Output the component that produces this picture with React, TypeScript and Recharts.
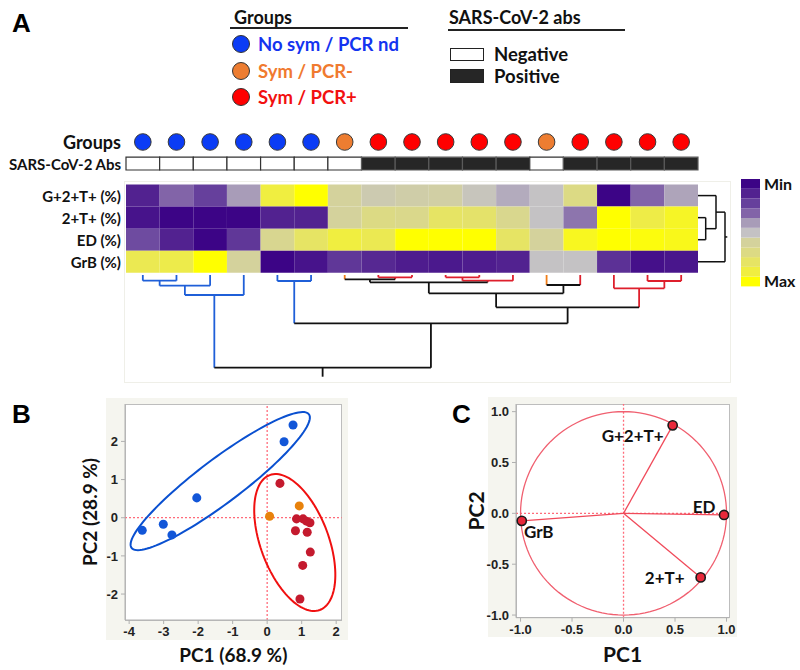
import React from 'react'
import {
  ScatterChart,
  Scatter,
  BarChart,
  Bar,
  XAxis,
  YAxis,
  ReferenceArea,
  ReferenceLine,
} from 'recharts'

const FONT = 'Lato, "Open Sans", sans-serif'
const NUM_FONT = '"Liberation Sans", Arial, sans-serif'

// ---------- panel A data ----------
const MARKERS = ['G+2+T+ (%)', '2+T+ (%)', 'ED (%)', 'GrB (%)']
// nd = no sym / PCR nd, neg = sym / PCR-, pos = sym / PCR+
const SAMPLE_GROUPS = ['nd', 'nd', 'nd', 'nd', 'nd', 'nd', 'neg', 'pos', 'pos', 'pos', 'pos', 'pos', 'neg', 'pos', 'pos', 'pos', 'pos']
const SAMPLE_ABS = [0, 0, 0, 0, 0, 0, 0, 1, 1, 1, 1, 1, 0, 1, 1, 1, 1]

// scaled level, 0 = min .. 10 = max
const HEAT_G2T = [1, 3, 2, 4, 9, 10, 6, 5.5, 5.7, 5.8, 5.2, 4.4, 5, 7, 0, 3, 4.2]
const HEAT_2T = [0.5, 0, 0, 0, 1, 1, 6, 7, 6.7, 8, 7.8, 6.6, 5, 3.3, 10, 8.8, 9.4]
const HEAT_ED = [2.3, 1, 0, 1.7, 6.5, 8, 9, 8.5, 10, 10, 10, 8, 6, 9.5, 10, 9.8, 9.6]
const HEAT_GRB = [8.5, 8.7, 10, 6, 0, 0.5, 1.7, 1.2, 0.8, 0.7, 0.8, 1, 5, 5, 1.5, 0.4, 0.6]
const HEAT_ROWS = [HEAT_G2T, HEAT_2T, HEAT_ED, HEAT_GRB]

const HEAT_PALETTE = ['#3c0486', '#522290', '#66409c', '#8264a8', '#a89cb8', '#c4c2c4', '#d4d29c', '#dcda84', '#e6e464', '#f0ee40', '#ffff00']

// linkage rows: [left, right, height]; leaves first, merged clusters numbered after them
const COL_LINKAGE: [number, number, number][] = [
  [0, 1, 0.285], [17, 2, 0.535], [18, 3, 1.0], [4, 5, 0.3], [7, 8, 0.115], [6, 21, 0.215],
  [9, 10, 0.115], [23, 11, 0.285], [22, 24, 0.365], [12, 13, 0.5], [25, 26, 0.915],
  [15, 16, 0.3], [14, 28, 0.665], [27, 29, 1.615], [20, 30, 2.415], [19, 31, 4.635],
]
const COL_ROOT_STEM = 5.085
const ROW_LINKAGE: [number, number, number][] = [[1, 2, 0.385], [0, 4, 0.9], [5, 3, 1.35]]
const ROW_ROOT_STEM = 1.465

// ---------- panel B data ----------
const PCA_NOSYM = [
  { x: 0.75, y: 2.43 }, { x: 0.49, y: 1.99 }, { x: -2.04, y: 0.52 },
  { x: -3.01, y: -0.17 }, { x: -3.62, y: -0.33 }, { x: -2.76, y: -0.45 },
]
const PCA_SYM_NEG = [{ x: 0.93, y: 0.31 }, { x: 0.07, y: 0.04 }]
const PCA_SYM_POS = [
  { x: 0.37, y: 0.9 }, { x: 0.85, y: -0.03 }, { x: 1.04, y: -0.03 }, { x: 1.14, y: -0.09 },
  { x: 1.24, y: -0.13 }, { x: 0.82, y: -0.34 }, { x: 1.16, y: -0.38 }, { x: 1.25, y: -0.9 },
  { x: 1.03, y: -1.25 }, { x: 0.95, y: -2.13 },
]
// confidence ellipses: centre and the two half axes
const ELLIPSE_NOSYM = { cx: -1.36, cy: 0.96, ax: 2.57, ay: 1.75, bx: 0.38, by: -0.46 }
const ELLIPSE_SYMPOS = { cx: 0.8, cy: -0.65, ax: 0.725, ay: -1.767, bx: 0.925, by: 0.309 }

// ---------- panel C data ----------
const LOADING_NAMES = ['G+2+T+', 'ED', 'GrB', '2+T+']
const LOADING_PC1 = [0.477, 0.976, -0.988, 0.749]
const LOADING_PC2 = [0.865, -0.016, -0.074, -0.63]

// ---------- styles ----------
const GROUP_FILL: Record<string, string> = { nd: '#0b3cf5', neg: '#ed7d31', pos: '#ff0000' }
const DEND_COLOR: Record<string, string> = { nd: '#1f5fd8', neg: '#f07d18', pos: '#de1f2c', mixed: '#111111' }
const LABEL_OFFSET: Record<string, [number, number]> = {
  'G+2+T+': [-40, 10], ED: [-20, -8], GrB: [17, 11], '2+T+': [-36, 0],
}

const HM_Y = [-0.6, 6.2]
const ABS_Y = [4.16, 4.74]
const GROUP_Y = 5.43

function hex(c: string) {
  return [1, 3, 5].map((i) => parseInt(c.slice(i, i + 2), 16))
}
function heatColor(level: number) {
  const i = Math.min(HEAT_PALETTE.length - 2, Math.floor(level))
  const t = level - i
  const a = hex(HEAT_PALETTE[i])
  const b = hex(HEAT_PALETTE[i + 1])
  const m = a.map((v, k) => Math.round(v + (b[k] - v) * t))
  return `rgb(${m[0]},${m[1]},${m[2]})`
}

type Seg = { pts: { x: number; y: number }[]; color: string }
function dendroSegments(
  linkage: [number, number, number][],
  leafGroups: string[],
  stem: number,
  toXY: (p: number, d: number) => { x: number; y: number },
): Seg[] {
  const n = leafGroups.length
  const pos: number[] = []
  const hgt: number[] = []
  const grp: string[] = []
  for (let i = 0; i < n; i++) {
    pos[i] = i
    hgt[i] = 0
    grp[i] = leafGroups[i]
  }
  const segs: Seg[] = []
  linkage.forEach(([a, b, h], k) => {
    const id = n + k
    pos[id] = (pos[a] + pos[b]) / 2
    hgt[id] = h
    grp[id] = grp[a] === grp[b] ? grp[a] : 'mixed'
    segs.push({ pts: [toXY(pos[a], hgt[a]), toXY(pos[a], h)], color: DEND_COLOR[grp[a]] })
    segs.push({ pts: [toXY(pos[b], hgt[b]), toXY(pos[b], h)], color: DEND_COLOR[grp[b]] })
    segs.push({ pts: [toXY(pos[a], h), toXY(pos[b], h)], color: DEND_COLOR[grp[id]] })
  })
  const root = n + linkage.length - 1
  segs.push({ pts: [toXY(pos[root], hgt[root]), toXY(pos[root], stem)], color: DEND_COLOR[grp[root]] })
  return segs
}

function ellipseOutline(e: typeof ELLIPSE_NOSYM) {
  const pts = []
  for (let k = 0; k <= 120; k++) {
    const t = (k / 120) * 2 * Math.PI
    pts.push({
      x: e.cx + Math.cos(t) * e.ax + Math.sin(t) * e.bx,
      y: e.cy + Math.cos(t) * e.ay + Math.sin(t) * e.by,
    })
  }
  return pts
}

const NoDot = () => <g />

const GroupDot = (props: any) => (
  <circle cx={props.cx} cy={props.cy} r={8.3} fill={GROUP_FILL[props.payload.g]} stroke="#3a3a3a" strokeWidth={1} />
)

const HeatTick = (props: any) => {
  const v = props.payload.value
  const label = v === GROUP_Y ? 'Groups' : v === (ABS_Y[0] + ABS_Y[1]) / 2 ? 'SARS-CoV-2 Abs' : MARKERS[3 - v]
  return (
    <text x={props.x} y={props.y} textAnchor="end" dominantBaseline="central" fontFamily={FONT} fontWeight={700} fontSize={label === 'Groups' ? 18 : 15} fill="#111">
      {label}
    </text>
  )
}

const LoadingDot = (props: any) => {
  const { cx, cy, payload } = props
  const [dx, dy] = LABEL_OFFSET[payload.name]
  return (
    <g>
      <circle cx={cx} cy={cy} r={4.6} fill="#e8283a" stroke="#1a1a1a" strokeWidth={1.6} />
      <text x={cx + dx} y={cy + dy} textAnchor="middle" dominantBaseline="central" fontFamily={FONT} fontWeight={700} fontSize={17} fill="#111">
        {payload.name}
      </text>
    </g>
  )
}

const Txt = ({ x, y, size, color = '#111', children }: any) => (
  <div style={{ position: 'absolute', left: x, top: y, transform: 'translateY(-50%)', fontFamily: FONT, fontWeight: 700, fontSize: size, color, lineHeight: 1, whiteSpace: 'nowrap' }}>
    {children}
  </div>
)

const Box = (s: React.CSSProperties) => <div style={{ position: 'absolute', boxSizing: 'border-box', ...s }} />

const tickStyle = { fontFamily: NUM_FONT, fontSize: 13, fontWeight: 700, fill: '#222' }
const axisTitle = { fontFamily: FONT, fontWeight: 700, fontSize: 19, fill: '#111' }

export default function App() {
  const groupPoints = SAMPLE_GROUPS.map((g, i) => ({ x: i, y: GROUP_Y, g }))
  const colSegs = dendroSegments(COL_LINKAGE, SAMPLE_GROUPS, COL_ROOT_STEM, (p, d) => ({ x: p, y: d }))
  const rowSegs = dendroSegments(ROW_LINKAGE, MARKERS.map(() => 'mixed'), ROW_ROOT_STEM, (p, d) => ({ x: d, y: 3 - p }))
  const colorbarRow: Record<string, number | string> = { name: 'scale' }
  HEAT_PALETTE.forEach((_, i) => (colorbarRow[`l${i}`] = 1))
  const loadings = LOADING_NAMES.map((name, i) => ({ name, x: LOADING_PC1[i], y: LOADING_PC2[i] }))
  const ticksC = [-1, -0.5, 0, 0.5, 1]

  return (
    <div style={{ position: 'absolute', left: 0, top: 0, width: 800, height: 670, background: '#fff', overflow: 'hidden' }}>
      {/* panel letters */}
      <div style={{ position: 'absolute', left: 12, top: 8, fontFamily: NUM_FONT, fontWeight: 700, fontSize: 26 }}>A</div>
      <div style={{ position: 'absolute', left: 12, top: 399, fontFamily: NUM_FONT, fontWeight: 700, fontSize: 26 }}>B</div>
      <div style={{ position: 'absolute', left: 452, top: 399, fontFamily: NUM_FONT, fontWeight: 700, fontSize: 26 }}>C</div>

      {/* legend */}
      <Txt x={234} y={17} size={18}>Groups</Txt>
      <Box left={230} top={27} width={178} height={1.8} background="#222" />
      <Txt x={449} y={17} size={18}>SARS-CoV-2 abs</Txt>
      <Box left={448} top={29} width={177} height={1.8} background="#222" />
      {[
        { g: 'nd', label: 'No sym / PCR nd', color: '#1434f0', y: 43.5 },
        { g: 'neg', label: 'Sym / PCR-', color: '#f07a30', y: 70.5 },
        { g: 'pos', label: 'Sym / PCR+', color: '#f21010', y: 97 },
      ].map((it) => (
        <React.Fragment key={it.g}>
          <Box left={232} top={it.y - 9} width={18} height={18} borderRadius="50%" border="1px solid #333" background={GROUP_FILL[it.g]} />
          <Txt x={258} y={it.y} size={18.5} color={it.color}>{it.label}</Txt>
        </React.Fragment>
      ))}
      <Box left={450} top={47.5} width={34} height={13.5} border="1.5px solid #222" background="#fff" />
      <Txt x={494} y={54} size={18.5}>Negative</Txt>
      <Box left={450} top={69} width={34} height={14} border="1.5px solid #222" background="#262626" />
      <Txt x={494} y={76} size={18.5}>Positive</Txt>

      {/* faint frame round the heatmap */}
      <Box left={124} top={181} width={607} height={202} border="1.5px solid #efefe8" />

      {/* heatmap with group / antibody rows */}
      <div style={{ position: 'absolute', left: 0, top: 125 }}>
        <ScatterChart width={700} height={150} margin={{ top: 0, right: 2, bottom: 0, left: 0 }}>
          <XAxis type="number" dataKey="x" domain={[-0.5, 16.5]} hide />
          <YAxis
            type="number"
            dataKey="y"
            domain={HM_Y}
            width={126}
            ticks={[GROUP_Y, (ABS_Y[0] + ABS_Y[1]) / 2, 3, 2, 1, 0]}
            interval={0}
            axisLine={false}
            tickLine={false}
            tickSize={0}
            tickMargin={5}
            tick={<HeatTick />}
          />
          {HEAT_ROWS.map((row, r) =>
            row.map((lv, i) => (
              <ReferenceArea key={`h${r}-${i}`} x1={i - 0.5} x2={i + 0.5} y1={3 - r - 0.5} y2={3 - r + 0.5} fill={heatColor(lv)} fillOpacity={1} stroke="none" />
            )),
          )}
          {SAMPLE_ABS.map((a, i) => (
            <ReferenceArea key={`a${i}`} x1={i - 0.5} x2={i + 0.5} y1={ABS_Y[0]} y2={ABS_Y[1]} fill={a ? '#262626' : '#ffffff'} fillOpacity={1} stroke={a ? '#5a5a5a' : '#333'} strokeWidth={1.2} />
          ))}
          <Scatter data={groupPoints} shape={GroupDot} isAnimationActive={false} />
        </ScatterChart>
      </div>

      {/* row dendrogram */}
      <div style={{ position: 'absolute', left: 698, top: 125 }}>
        <ScatterChart width={31} height={150} margin={{ top: 0, right: 0, bottom: 0, left: 0 }}>
          <XAxis type="number" dataKey="x" domain={[0, 1.55]} hide />
          <YAxis type="number" dataKey="y" domain={HM_Y} hide />
          {rowSegs.map((s, i) => (
            <Scatter key={i} data={s.pts} line={{ stroke: s.color, strokeWidth: 1.5 }} shape={NoDot} isAnimationActive={false} />
          ))}
        </ScatterChart>
      </div>

      {/* colour scale */}
      <div style={{ position: 'absolute', left: 741, top: 169.3 }}>
        <BarChart width={58} height={127.4} data={[colorbarRow]} margin={{ top: 10, right: 0, bottom: 10, left: 0 }} barCategoryGap={0}>
          <XAxis dataKey="name" hide />
          <YAxis
            orientation="right"
            type="number"
            domain={[0, HEAT_PALETTE.length]}
            ticks={[0.5, HEAT_PALETTE.length - 0.5]}
            interval={0}
            width={39}
            axisLine={false}
            tickLine={false}
            tickSize={0}
            tickMargin={4}
            tickFormatter={(v: number) => (v > 5 ? 'Min' : 'Max')}
            tick={{ fontFamily: FONT, fontWeight: 700, fontSize: 16, fill: '#111' }}
          />
          {HEAT_PALETTE.map((_, i) => {
            const lv = HEAT_PALETTE.length - 1 - i
            return <Bar key={lv} dataKey={`l${lv}`} stackId="s" fill={HEAT_PALETTE[lv]} isAnimationActive={false} />
          })}
        </BarChart>
      </div>

      {/* column dendrogram */}
      <div style={{ position: 'absolute', left: 0, top: 275 }}>
        <ScatterChart width={700} height={103} margin={{ top: 0, right: 2, bottom: 0, left: 126 }}>
          <XAxis type="number" dataKey="x" domain={[-0.5, 16.5]} hide />
          <YAxis type="number" dataKey="y" domain={[0, 5.15]} reversed hide />
          {colSegs.map((s, i) => (
            <Scatter key={i} data={s.pts} line={{ stroke: s.color, strokeWidth: 1.8 }} shape={NoDot} isAnimationActive={false} />
          ))}
        </ScatterChart>
      </div>

      {/* panel B */}
      <Box left={106} top={398} width={242} height={242} background="#f5f5ef" />
      <Box left={125} top={404} width={217} height={217} background="#fff" border="1px solid #bdbdbd" />
      <div style={{ position: 'absolute', left: 70, top: 398 }}>
        <ScatterChart width={278} height={270} margin={{ top: 6, right: 6.3, bottom: 0, left: 0 }}>
          <XAxis
            type="number"
            dataKey="x"
            domain={[-4.12, 2.16]}
            ticks={[-4, -3, -2, -1, 0, 1, 2]}
            interval={0}
            allowDataOverflow
            height={48}
            tickSize={4}
            tickMargin={3}
            stroke="#b0b0b0"
            tick={tickStyle}
            label={{ value: 'PC1 (68.9 %)', position: 'insideBottom', offset: 6, style: axisTitle }}
          />
          <YAxis
            type="number"
            dataKey="y"
            domain={[-2.68, 2.98]}
            ticks={[-2, -1, 0, 1, 2]}
            interval={0}
            allowDataOverflow
            width={55}
            tickSize={4}
            tickMargin={3}
            stroke="#b0b0b0"
            tick={tickStyle}
            label={{ value: 'PC2 (28.9 %)', angle: -90, position: 'insideLeft', offset: 20, style: { ...axisTitle, textAnchor: 'middle' } }}
          />
          <ReferenceLine x={0} stroke="#ff6b7a" strokeDasharray="2 2" strokeWidth={1.3} />
          <ReferenceLine y={0} stroke="#ff6b7a" strokeDasharray="2 2" strokeWidth={1.3} />
          <Scatter data={ellipseOutline(ELLIPSE_NOSYM)} line={{ stroke: '#0a50d0', strokeWidth: 2 }} shape={NoDot} isAnimationActive={false} />
          <Scatter data={ellipseOutline(ELLIPSE_SYMPOS)} line={{ stroke: '#f01010', strokeWidth: 2 }} shape={NoDot} isAnimationActive={false} />
          <Scatter data={PCA_NOSYM} fill="#1256d8" isAnimationActive={false} />
          <Scatter data={PCA_SYM_NEG} fill="#e8820c" isAnimationActive={false} />
          <Scatter data={PCA_SYM_POS} fill="#c41a2e" isAnimationActive={false} />
        </ScatterChart>
      </div>

      {/* panel C */}
      <Box left={488} top={397} width={249} height={240} background="#f5f5ef" />
      <Box left={516} top={404} width={214} height={214} background="#fff" border="1px solid #bdbdbd" />
      <div style={{ position: 'absolute', left: 455, top: 398 }}>
        <ScatterChart width={281} height={270} margin={{ top: 6, right: 6.7, bottom: 0, left: 0 }}>
          <XAxis
            type="number"
            dataKey="x"
            domain={[-1.044, 1.027]}
            ticks={ticksC}
            interval={0}
            allowDataOverflow
            height={50.3}
            tickSize={4}
            tickMargin={3}
            stroke="#b0b0b0"
            tick={tickStyle}
            tickFormatter={(v: number) => v.toFixed(1)}
            label={{ value: 'PC1', position: 'insideBottom', offset: 6, style: { ...axisTitle, fontSize: 21 } }}
          />
          <YAxis
            type="number"
            dataKey="y"
            domain={[-1.026, 1.075]}
            ticks={ticksC}
            interval={0}
            allowDataOverflow
            width={61}
            tickSize={4}
            tickMargin={3}
            stroke="#b0b0b0"
            tick={tickStyle}
            tickFormatter={(v: number) => v.toFixed(1)}
            label={{ value: 'PC2', angle: -90, position: 'insideLeft', offset: 22, style: { ...axisTitle, fontSize: 21, textAnchor: 'middle' } }}
          />
          <ReferenceLine x={0} stroke="#ff6b7a" strokeDasharray="2 2" strokeWidth={1.3} />
          <ReferenceLine y={0} stroke="#ff6b7a" strokeDasharray="2 2" strokeWidth={1.3} />
          <Scatter data={ellipseOutline({ cx: 0, cy: 0, ax: 1, ay: 0, bx: 0, by: 1 })} line={{ stroke: '#f06070', strokeWidth: 1.3 }} shape={NoDot} isAnimationActive={false} />
          {loadings.map((l) => (
            <Scatter key={`v${l.name}`} data={[{ x: 0, y: 0 }, { x: l.x, y: l.y }]} line={{ stroke: '#f04a5a', strokeWidth: 1.3 }} shape={NoDot} isAnimationActive={false} />
          ))}
          <Scatter data={loadings} shape={LoadingDot} isAnimationActive={false} />
        </ScatterChart>
      </div>
    </div>
  )
}
